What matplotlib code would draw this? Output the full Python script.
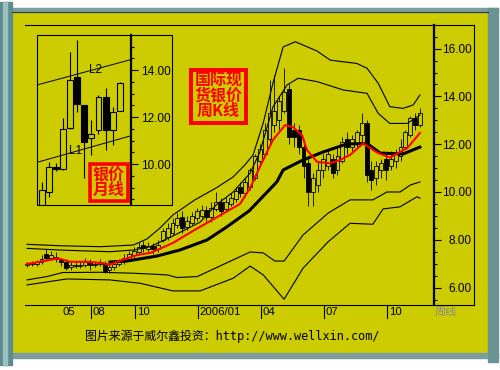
import numpy as np
import matplotlib
matplotlib.use("Agg")
import matplotlib.pyplot as plt
from matplotlib.patches import Rectangle
from matplotlib.lines import Line2D
from matplotlib.ticker import MultipleLocator

# ---------------- weekly candles, week index 0..81 ----------------
w_open = [6.95, 7.00, 6.98, 7.05, 7.40, 7.25, 7.30, 7.15, 7.07, 6.85,
          6.95, 6.90, 6.95, 7.05, 6.95, 7.00, 7.02, 6.75, 6.85, 7.00,
          7.10, 7.20, 7.35, 7.50, 7.80, 7.60, 7.75, 7.60, 8.00, 8.10,
          8.30, 8.60, 8.95, 8.55, 8.70, 8.90, 9.00, 9.25, 8.95, 9.30,
          9.60, 9.30, 9.50, 9.70, 10.20, 9.95, 10.20, 10.60, 11.30, 11.60,
          12.20, 12.80, 13.00, 13.40, 14.30, 12.60, 12.60, 11.90, 11.20, 10.00,
          10.30, 10.90, 11.10, 11.40, 10.90, 11.30, 12.20, 11.90, 12.00, 12.40,
          12.90, 10.90, 10.60, 10.90, 11.40, 11.10, 11.30, 11.50, 11.90, 12.40,
          13.10, 12.80]
w_high = [7.05, 7.10, 7.15, 7.35, 7.60, 7.55, 7.50, 7.25, 7.20, 7.10,
          7.05, 7.10, 7.25, 7.20, 7.10, 7.20, 7.10, 7.00, 7.10, 7.20,
          7.40, 7.55, 7.70, 7.90, 7.95, 7.90, 7.85, 8.00, 8.50, 8.70,
          8.90, 9.10, 9.20, 9.00, 9.15, 9.35, 9.45, 9.40, 9.60, 10.00,
          9.75, 9.80, 9.95, 10.20, 10.40, 10.60, 11.00, 11.60, 12.00, 12.90,
          14.70, 14.90, 14.00, 15.20, 14.50, 12.90, 12.80, 12.20, 11.50, 10.80,
          11.30, 11.60, 11.80, 11.60, 11.90, 12.30, 12.50, 12.40, 12.60, 13.30,
          13.00, 11.30, 11.30, 11.40, 11.60, 11.70, 11.80, 12.20, 12.60, 13.20,
          13.30, 13.50]
w_low = [6.85, 6.90, 6.90, 7.00, 7.10, 7.15, 7.05, 6.90, 6.75, 6.75,
         6.80, 6.80, 6.85, 6.75, 6.85, 6.90, 6.60, 6.60, 6.75, 6.90,
         7.00, 7.10, 7.25, 7.40, 7.50, 7.50, 7.40, 7.50, 7.90, 8.00,
         8.20, 8.50, 8.30, 8.40, 8.60, 8.80, 8.90, 8.80, 8.75, 9.20,
         9.00, 9.20, 9.40, 9.60, 9.80, 9.80, 10.10, 10.50, 11.10, 11.50,
         12.00, 12.50, 12.60, 13.30, 12.00, 11.90, 11.60, 10.60, 9.40, 9.40,
         10.00, 10.60, 10.90, 10.60, 10.70, 11.20, 11.60, 11.70, 11.90, 12.10,
         10.40, 10.10, 10.30, 10.60, 10.50, 10.90, 11.00, 11.30, 11.80, 12.30,
         12.60, 12.70]
w_close = [7.00, 6.98, 7.05, 7.20, 7.25, 7.35, 7.20, 7.05, 6.82, 6.95,
           6.92, 6.95, 7.05, 6.95, 7.00, 7.05, 6.70, 6.85, 7.00, 7.10,
           7.25, 7.40, 7.55, 7.70, 7.65, 7.75, 7.60, 7.80, 8.35, 8.50,
           8.70, 8.90, 8.50, 8.80, 9.00, 9.20, 9.25, 8.95, 9.35, 9.60,
           9.20, 9.60, 9.75, 10.05, 9.95, 10.40, 10.90, 11.50, 11.80, 12.60,
           13.30, 13.40, 13.80, 14.20, 12.30, 12.30, 11.90, 11.10, 10.00, 10.60,
           10.90, 11.40, 11.60, 10.80, 11.50, 12.10, 11.90, 12.20, 12.50, 12.90,
           10.70, 10.50, 11.10, 11.20, 10.90, 11.40, 11.60, 11.90, 12.50, 13.10,
           12.80, 13.30]

# moving average (red) and long average (thick black)
ma_wk = [0, 2.7, 6.4, 8.9, 12.4, 15.7, 17.1, 19.2, 22.7, 25.4, 26.8, 30.1, 34.2,
         39.2, 43.9, 46.0, 48.0, 50.7, 53.2, 54.8, 56.7, 57.7, 59.8, 62.5, 64.5,
         66.6, 69.3, 72.2, 74.8, 78.4, 81.0]
ma_val = [6.99, 7.08, 7.22, 7.08, 7.08, 7.02, 6.95, 7.13, 7.36, 7.45, 7.57, 7.87,
          8.37, 8.95, 9.50, 10.17, 11.05, 12.18, 12.80, 12.72, 12.38, 11.76, 11.26,
          11.20, 11.34, 11.55, 12.04, 11.65, 11.44, 11.84, 12.47]
ma_long_wk = [17.1, 20.6, 26.8, 31.5, 37.1, 41.2, 45.8, 51.5, 52.8, 56.9, 61.0,
              65.9, 70.1, 72.8, 77.5, 81.0]
ma_long_val = [7.07, 7.11, 7.32, 7.57, 7.99, 8.54, 9.21, 10.42, 10.92, 11.34,
               11.67, 12.01, 12.03, 11.63, 11.59, 11.88]

# band lines
up2_wk = [0, 6.8, 15.1, 21.9, 24.7, 27.4, 30.1, 34.6, 39.0, 42.5, 44.9, 46.6, 48.7,
          50.7, 52.8, 55.3, 59.8, 62.5, 68.0, 70.1, 72.4, 74.8, 77.5, 79.6, 81.0]
up2_val = [7.81, 7.75, 7.71, 7.78, 8.03, 8.49, 9.04, 9.67, 10.17, 10.63, 11.13,
           11.55, 12.89, 14.56, 16.07, 16.29, 15.90, 15.52, 15.38, 15.18, 14.55,
           13.57, 13.50, 13.64, 14.06]
up1_wk = [0, 6.8, 17.1, 21.9, 25.4, 30.1, 35.7, 39.0, 42.5, 46.0, 48.0, 50.7, 53.6,
          55.9, 59.8, 65.2, 70.1, 72.4, 74.8, 78.4, 81.0]
up1_val = [7.64, 7.57, 7.50, 7.57, 7.71, 8.16, 8.74, 9.46, 10.00, 10.79, 11.67,
           13.56, 14.48, 14.76, 14.62, 14.27, 14.13, 13.29, 12.87, 12.87, 13.22]
lo1_wk = [0, 4.1, 7.4, 15.1, 21.9, 28.9, 30.9, 35.1, 46.0, 48.7, 51.1, 53.0, 56.9,
          62.1, 66.6, 71.3, 74.2, 76.9, 79.0, 81.0]
lo1_val = [6.32, 6.46, 6.63, 6.64, 6.60, 6.53, 6.42, 6.46, 7.49, 7.45, 7.11, 7.11,
           8.20, 9.12, 9.67, 9.67, 10.00, 10.00, 10.29, 10.42]
lo2_wk = [0, 8.2, 17.1, 23.3, 30.1, 35.7, 42.5, 46.0, 48.7, 53.0, 56.9, 62.1, 66.6,
          71.3, 73.4, 76.9, 80.4, 81.0]
lo2_val = [6.11, 6.36, 6.32, 6.18, 5.86, 5.86, 6.39, 6.90, 6.53, 5.51, 6.81, 7.92,
           8.69, 8.65, 9.29, 9.38, 9.80, 9.74]

tick_wk = [13.1, 22.3, 35.2, 48.2, 61.2, 74.2]
tick_lbl = ["08", "10", "2006/01", "04", "07", "10"]

# ---------------- monthly candles (inset) ----------------
m_open = [8.26, 8.82, 9.89, 9.77, 11.52, 13.69, 12.51, 11.09, 11.45, 12.84, 11.45, 12.26]
m_high = [9.25, 10.10, 10.03, 11.94, 14.78, 15.28, 12.51, 11.87, 12.94, 13.22, 12.44, 13.50]
m_low = [8.20, 8.61, 9.70, 9.75, 11.50, 12.23, 9.39, 10.38, 11.28, 10.60, 10.81, 12.26]
m_close = [8.89, 9.86, 9.77, 11.48, 13.57, 12.55, 10.95, 11.30, 12.84, 11.45, 12.23, 13.46]
l1_x, l1_y = [-0.8, 12.45], [10.07, 11.19]
l2_x, l2_y = [-0.8, 12.45], [13.36, 14.43]

BG = "#cccc00"
W, H = 500, 370
NUM = "Liberation Sans"
CJK = ["Noto Sans CJK SC", "DejaVu Sans"]


def box(x0, y0, x1, y1, **kw):
    fig.add_artist(Rectangle((x0 / W, 1 - y1 / H), (x1 - x0) / W, (y1 - y0) / H,
                             transform=fig.transFigure, **kw))


def fline(xs, ys, **kw):
    fig.add_artist(Line2D([x / W for x in xs], [1 - y / H for y in ys],
                          transform=fig.transFigure, **kw))


def candles(ax, o, h, l, c, width, lw):
    x = np.arange(len(o))
    o, h, l, c = map(np.asarray, (o, h, l, c))
    ax.vlines(x, l, h, color="black", lw=lw, zorder=2)
    cols = [BG if cc >= oo else "black" for oo, cc in zip(o, c)]
    ax.bar(x, np.maximum(np.abs(c - o), 0.04), width, bottom=np.minimum(o, c),
           color=cols, edgecolor="black", lw=lw, zorder=3)


fig = plt.figure(figsize=(5, 3.7), dpi=100)
fig.patch.set_facecolor("white")

# window frame
box(12, 12, 488, 353, color=BG, zorder=-5)
box(12, 8, 498, 12, color="#7d9d9d", zorder=-4)
box(12, 353, 498, 358, color="#7d9d9d", zorder=-4)
box(488, 8, 498, 362, color="#6a9494", zorder=-4)
box(0, 2, 12, 365, color="#5d8c8e", zorder=-4)
box(3, 2, 7, 365, color="#9cc0c0", zorder=-4)
fline([12, 488], [12, 12], color="#2e3e3e", lw=0.8)

# ---------------- main weekly chart ----------------
ax = fig.add_axes([25 / W, 1 - 305 / H, 409 / W, 280 / H])
ax.patch.set_visible(False)
candles(ax, w_open, w_high, w_low, w_close, 0.8, 0.6)
for xs, ys in [(up2_wk, up2_val), (up1_wk, up1_val), (lo1_wk, lo1_val), (lo2_wk, lo2_val)]:
    ax.plot(xs, ys, color="black", lw=0.8, zorder=4)
ax.plot(ma_long_wk, ma_long_val, color="black", lw=2.2, zorder=5)
ax.plot(ma_wk, ma_val, color="#ff0000", lw=1.5, zorder=6)

ax.set_xlim(-0.41, 83.9)
ax.set_ylim(5.27, 16.99)
for s in ["top", "bottom", "left"]:
    ax.spines[s].set_visible(False)
ax.spines["right"].set_linewidth(1.6)
ax.yaxis.tick_right()
ax.set_yticks([6, 8, 10, 12, 14, 16])
ax.set_yticklabels(["%.2f" % v for v in [6, 8, 10, 12, 14, 16]])
ax.yaxis.set_minor_locator(MultipleLocator(0.5))
ax.tick_params(axis="y", which="major", length=5, width=0.8, pad=22, labelsize=8.5)
ax.tick_params(axis="y", which="minor", length=2.2, width=0.8)
for t in ax.get_yticklabels():
    t.set_ha("right")
    t.set_fontfamily(NUM)
ax.tick_params(axis="x", length=0, labelbottom=False)

xt = ax.get_xaxis_transform()
for pos, lab in zip(tick_wk, tick_lbl):
    ax.plot([pos, pos], [0, -0.047], color="black", lw=0.8, transform=xt, clip_on=False)
    ax.text(pos + 0.35, -0.026, lab, transform=xt, ha="left", va="center",
            fontsize=8.2, family=NUM)
ax.text(7.4, -0.026, "05", transform=xt, ha="left", va="center", fontsize=8.2, family=NUM)

fline([25, 474], [25, 25], color="black", lw=0.8)
fline([25, 474], [305, 305], color="black", lw=0.8)
fline([474, 474], [25, 305], color="black", lw=0.8)
fig.text(435 / W, 1 - 312 / H, "周线", family=CJK, fontsize=8, color="#8c8c8c",
         ha="left", va="center")

# ---------------- inset monthly chart ----------------
ix = fig.add_axes([37 / W, 1 - 205 / H, 94 / W, 170 / H])
ix.patch.set_visible(False)
candles(ix, m_open, m_high, m_low, m_close, 0.85, 0.8)
ix.plot(l1_x, l1_y, color="black", lw=0.7, zorder=4)
ix.plot(l2_x, l2_y, color="black", lw=0.7, zorder=4)
ix.set_xlim(-0.76, 12.63)
ix.set_ylim(8.26, 15.49)
for s in ["top", "bottom", "left"]:
    ix.spines[s].set_visible(False)
ix.spines["right"].set_linewidth(1.6)
ix.yaxis.tick_right()
ix.set_yticks([10, 12, 14])
ix.set_yticklabels(["%.2f" % v for v in [10, 12, 14]])
ix.yaxis.set_minor_locator(MultipleLocator(0.5))
ix.tick_params(axis="y", which="major", length=5, width=0.8, pad=23.5, labelsize=8.5)
ix.tick_params(axis="y", which="minor", length=2.2, width=0.8)
for t in ix.get_yticklabels():
    t.set_ha("right")
    t.set_fontfamily(NUM)
ix.set_xticks([])
box(37, 35, 172, 205, fill=False, edgecolor="black", lw=0.8)
fig.text(89 / W, 1 - 70 / H, "L2", family=NUM, fontsize=8.5, ha="left", va="center", zorder=9)
fig.text(69 / W, 1 - 151 / H, "L1", family=NUM, fontsize=8.5, ha="left", va="center", zorder=9)

# ---------------- red captions ----------------
box(191, 70, 246, 123, fill=True, facecolor=BG, edgecolor="#ff0000", lw=2.9, zorder=8)
for yy, s in [(80, "国际现"), (95.5, "货银价"), (111, "周K线")]:
    fig.text(218.5 / W, 1 - yy / H, s, family=CJK, fontsize=11.5, color="#ff0000",
             ha="center", va="center", weight="bold", zorder=9)
box(90, 164, 128, 201, fill=True, facecolor=BG, edgecolor="#ff0000", lw=2.6, zorder=8)
for yy, s in [(174, "银价"), (190, "月线")]:
    fig.text(109 / W, 1 - yy / H, s, family=CJK, fontsize=11.5, color="#ff0000",
             ha="center", va="center", weight="bold", zorder=9)

fig.text(85 / W, 1 - 336 / H, "图片来源于威尔鑫投资：http://www.wellxin.com/",
         family=["DejaVu Sans Mono", "Noto Sans CJK SC"], fontsize=8.6,
         ha="left", va="center")

fig.savefig("out.png", dpi=100)
